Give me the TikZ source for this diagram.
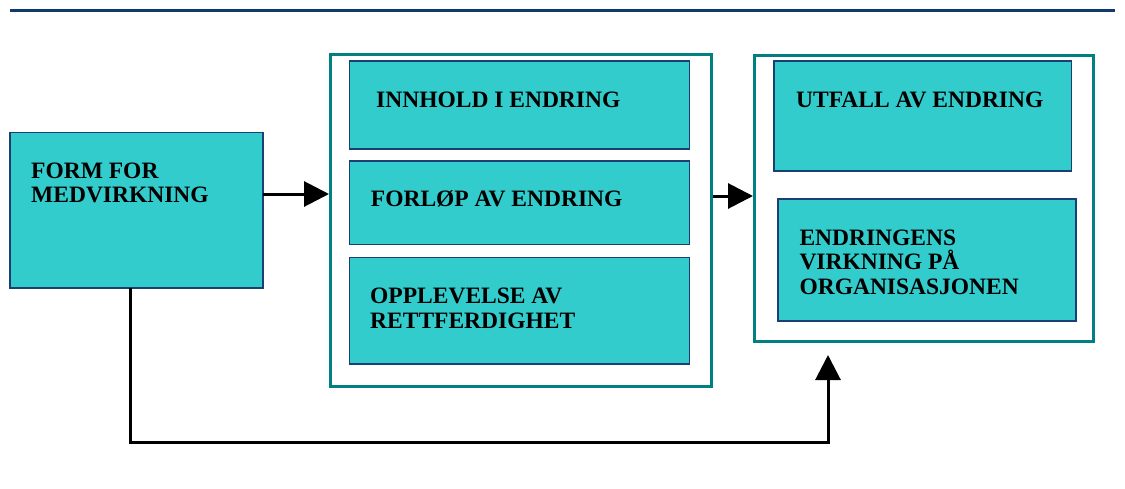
\documentclass[tikz,border=0pt]{standalone}
\usepackage{fontspec}
\setmainfont{Liberation Serif}
\usetikzlibrary{arrows.meta}
\definecolor{boxfill}{HTML}{33CCCC}
\definecolor{navy}{HTML}{1B3F73}
\definecolor{tealframe}{HTML}{008080}
\definecolor{rule}{HTML}{0E3A6E}
\tikzset{
  cell/.style={draw=navy, line width=1.6pt, fill=boxfill, inner sep=0pt, outer sep=0pt},
  frame/.style={draw=tealframe, line width=3pt, fill=white, inner sep=0pt},
  lbl/.style={font=\fontsize{23.5}{24.5}\selectfont\bfseries, inner sep=0pt, align=left, anchor=base west},
  flow/.style={line width=3pt, -{Triangle[length=25pt,width=25pt]}},
}
\begin{document}
\begin{tikzpicture}[x=1pt,y=-1pt]
\useasboundingbox (0,0) rectangle (1125,488);

% header rule
\draw[rule, line width=3.5pt] (10,10.3) -- (1115,10.3);

% input box (label anchors sit on the last line's baseline)
\node[cell, minimum width=253pt, minimum height=155.5pt, anchor=north west] (form) at (10,132.3) {};
\node[lbl] (formtxt) at (31,202.7) {FORM FOR\\MEDVIRKNING};

% process frame with its three cells
\node[frame, minimum width=381pt, minimum height=332pt, anchor=north west] (proc) at (329,52.5) {};
\node[cell, minimum width=340pt, minimum height=88pt, anchor=north west] (innhold) at (349.3,61) {};
\node[cell, minimum width=340pt, minimum height=83.3pt, anchor=north west] (forlop) at (349.3,161) {};
\node[cell, minimum width=340pt, minimum height=106.7pt, anchor=north west] (opplev) at (349.3,257.3) {};
\node[lbl] (innholdtxt) at (376,107.7) {INNHOLD I ENDRING};
\node[lbl] (forloptxt) at (370.7,206.7) {FORLØP AV ENDRING};
\node[lbl] (opplevtxt) at (370,328.3) {OPPLEVELSE AV\\RETTFERDIGHET};

% outcome frame with its two cells
\node[frame, minimum width=338.5pt, minimum height=286pt, anchor=north west] (outc) at (753,54) {};
\node[cell, minimum width=297.6pt, minimum height=109.7pt, anchor=north west] (utfall) at (773.7,61) {};
\node[cell, minimum width=298.3pt, minimum height=122pt, anchor=north west] (virkning) at (777.7,199) {};
\node[lbl] (utfalltxt) at (796,107.7) {UTFALL AV ENDRING};
\node[lbl] (virkningtxt) at (799.3,294) {ENDRINGENS\\VIRKNING PÅ\\ORGANISASJONEN};

% connectors
\draw[flow] (form.east |- 0,194) -- (proc.west |- 0,194);
\draw[flow] (proc.east |- 0,196) -- (outc.west |- 0,196);
\coordinate (turn) at (828,442);
\coordinate (tip) at (828,355);
\draw[flow] (form.south -| 130,0) |- (turn) -- (tip);
\end{tikzpicture}
\end{document}
